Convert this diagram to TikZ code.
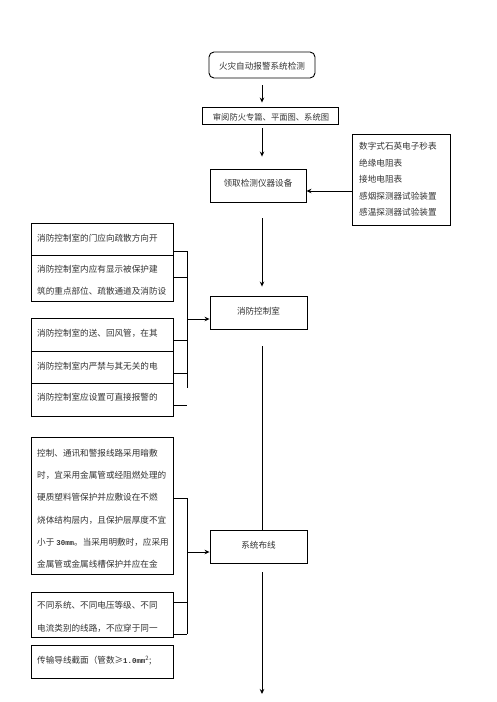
\documentclass[tikz,border=0pt]{standalone}
\usepackage{fontspec}
\newfontfamily\cjk{Noto Sans CJK SC}
\newfontfamily\lat{Liberation Mono}
\usetikzlibrary{arrows.meta,calc}
\newcommand{\latin}[1]{{\lat\fontsize{7.4}{10}\selectfont\bfseries #1}}
\begin{document}
\begin{tikzpicture}[x=1pt,y=-1pt,
  box/.style={draw, line width=0.9pt, inner sep=0pt},
  ln/.style={line width=0.9pt},
  arr/.style={line width=0.9pt, -{Stealth[length=5pt,width=4.5pt]}},
  txt/.style={font=\cjk\fontsize{8.6}{10}\selectfont, text=black!80, inner sep=0pt},
  para/.style={font=\cjk\fontsize{8.6}{22.2}\selectfont, text=black!80, inner sep=0pt, align=left, anchor=north west},
  lst/.style={font=\cjk\fontsize{8.6}{16.5}\selectfont, text=black!80, inner sep=0pt, align=left, anchor=north west}]
\useasboundingbox (0,0) rectangle (496,702);
\fill[white] (0,0) rectangle (496,702);

% main column
\node[box, rounded corners=5pt, minimum width=106pt, minimum height=26pt] (top) at (262,65) {};
\node[txt] (toptxt) at (262,66) {火灾自动报警系统检测};
\node[box, minimum width=136pt, minimum height=17pt] (b2) at (270,115.5) {};
\node[txt, font=\cjk\fontsize{8.3}{10}\selectfont] (b2txt) at (271,117.5) {审阅防火专篇、平面图、系统图};
\node[box, minimum width=96pt, minimum height=33pt] (b3) at (258,185.5) {};
\node[txt] (b3txt) at (258,183) {领取检测仪器设备};
\node[box, minimum width=98pt, minimum height=91pt] (R) at (401,179.5) {};
\node[lst] (Rtxt) at (359,142.5) {数字式石英电子秒表\\绝缘电阻表\\接地电阻表\\感烟探测器试验装置\\感温探测器试验装置};
\node[box, minimum width=97pt, minimum height=33pt] (b4) at (258.5,312.5) {};
\node[txt] (b4txt) at (258.5,311) {消防控制室};
\node[box, minimum width=97pt, minimum height=33pt] (b5) at (258.5,546.5) {};
\node[txt] (b5txt) at (258.5,545) {系统布线};

% left group 1
\node[box, minimum width=142pt, minimum height=32pt] (L1) at (102,239) {};
\node[box, minimum width=142pt, minimum height=46pt] (L2) at (102,278) {};
\node[box, minimum width=142pt, minimum height=33pt] (L3) at (102,334.5) {};
\node[box, minimum width=142pt, minimum height=32pt] (L4) at (102,367) {};
\node[box, minimum width=142pt, minimum height=33pt] (L5) at (102,399.5) {};
\node[para] (L1txt) at (37,233.5) {消防控制室的门应向疏散方向开};
\node[para] (L2txt) at (37,264.5) {消防控制室内应有显示被保护建\\筑的重点部位、疏散通道及消防设};
\node[para] (L3txt) at (37,328.5) {消防控制室的送、回风管，在其};
\node[para] (L4txt) at (37,361.5) {消防控制室内严禁与其无关的电};
\node[para] (L5txt) at (37,392.5) {消防控制室应设置可直接报警的};

% left group 2
\node[box, minimum width=142pt, minimum height=137pt] (A) at (102,505.5) {};
\node[box, minimum width=142pt, minimum height=45pt] (B) at (102,614.5) {};
\node[box, minimum width=142pt, minimum height=33pt] (C) at (102,661.5) {};
\node[para] (Atxt) at (37,449) {控制、通讯和警报线路采用暗敷\\时，宜采用金属管或经阻燃处理的\\硬质塑料管保护并应敷设在不燃\\烧体结构层内，且保护层厚度不宜\\小于\hspace{2pt}\latin{30mm}。当采用明敷时，应采用\\金属管或金属线槽保护并应在金};
\node[para] (Btxt) at (37,601.5) {不同系统、不同电压等级、不同\\电流类别的线路，不应穿于同一};
\node[para] (Ctxt) at (37,655.5) {传输导线截面（管数≥\latin{1.0mm}\textsuperscript{2};};

% main arrows
\coordinate (end) at (262,694);
\draw[arr, shorten <=7pt, shorten >=4pt] (top.south) -- (top.south |- b2.north);
\draw[arr, shorten <=4pt, shorten >=12pt] (top.south |- b2.south) -- (top.south |- b3.north);
\draw[arr, shorten <=16pt, shorten >=9pt] (top.south |- b3.south) -- (top.south |- b4.north);
\draw[ln, shorten <=17pt] (top.south |- b4.south) -- (top.south |- b5.north);
\draw[arr, shorten <=9pt] (top.south |- b5.south) -- (end);
\draw[arr] (R.west |- 0,191) -- ([yshift=-5.5pt]b3.east);

% bracket 1
\coordinate (t1) at (187,251);
\coordinate (t2) at (187,277);
\coordinate (t3) at (187,319);
\coordinate (t4) at (187,340);
\coordinate (t5) at (187,373);
\coordinate (t6) at (187,388);
\coordinate (t7) at (187,405);
\draw[ln] (t1) -- (t6);
\draw[ln] (L1.east |- t1) -- (t1);
\draw[ln] (L2.east |- t2) -- (t2);
\draw[ln] (L3.east |- t4) -- (t4);
\draw[ln] (L4.east |- t5) -- (t5);
\draw[ln] (L5.east |- t7) -- (t7);
\draw[arr] (t3) -- (b4.west |- t3);

% bracket 2
\coordinate (s1) at (187,498);
\coordinate (s2) at (187,552);
\coordinate (s3) at (187,602);
\coordinate (s4) at (187,634);
\draw[ln] (s1) -- (s4);
\draw[ln] (A.east |- s1) -- (s1);
\draw[ln] (B.east |- s3) -- (s3);
\draw[ln] (B.east |- s4) -- (s4);
\draw[arr] (s2) -- (b5.west |- s2);
\end{tikzpicture}
\end{document}
